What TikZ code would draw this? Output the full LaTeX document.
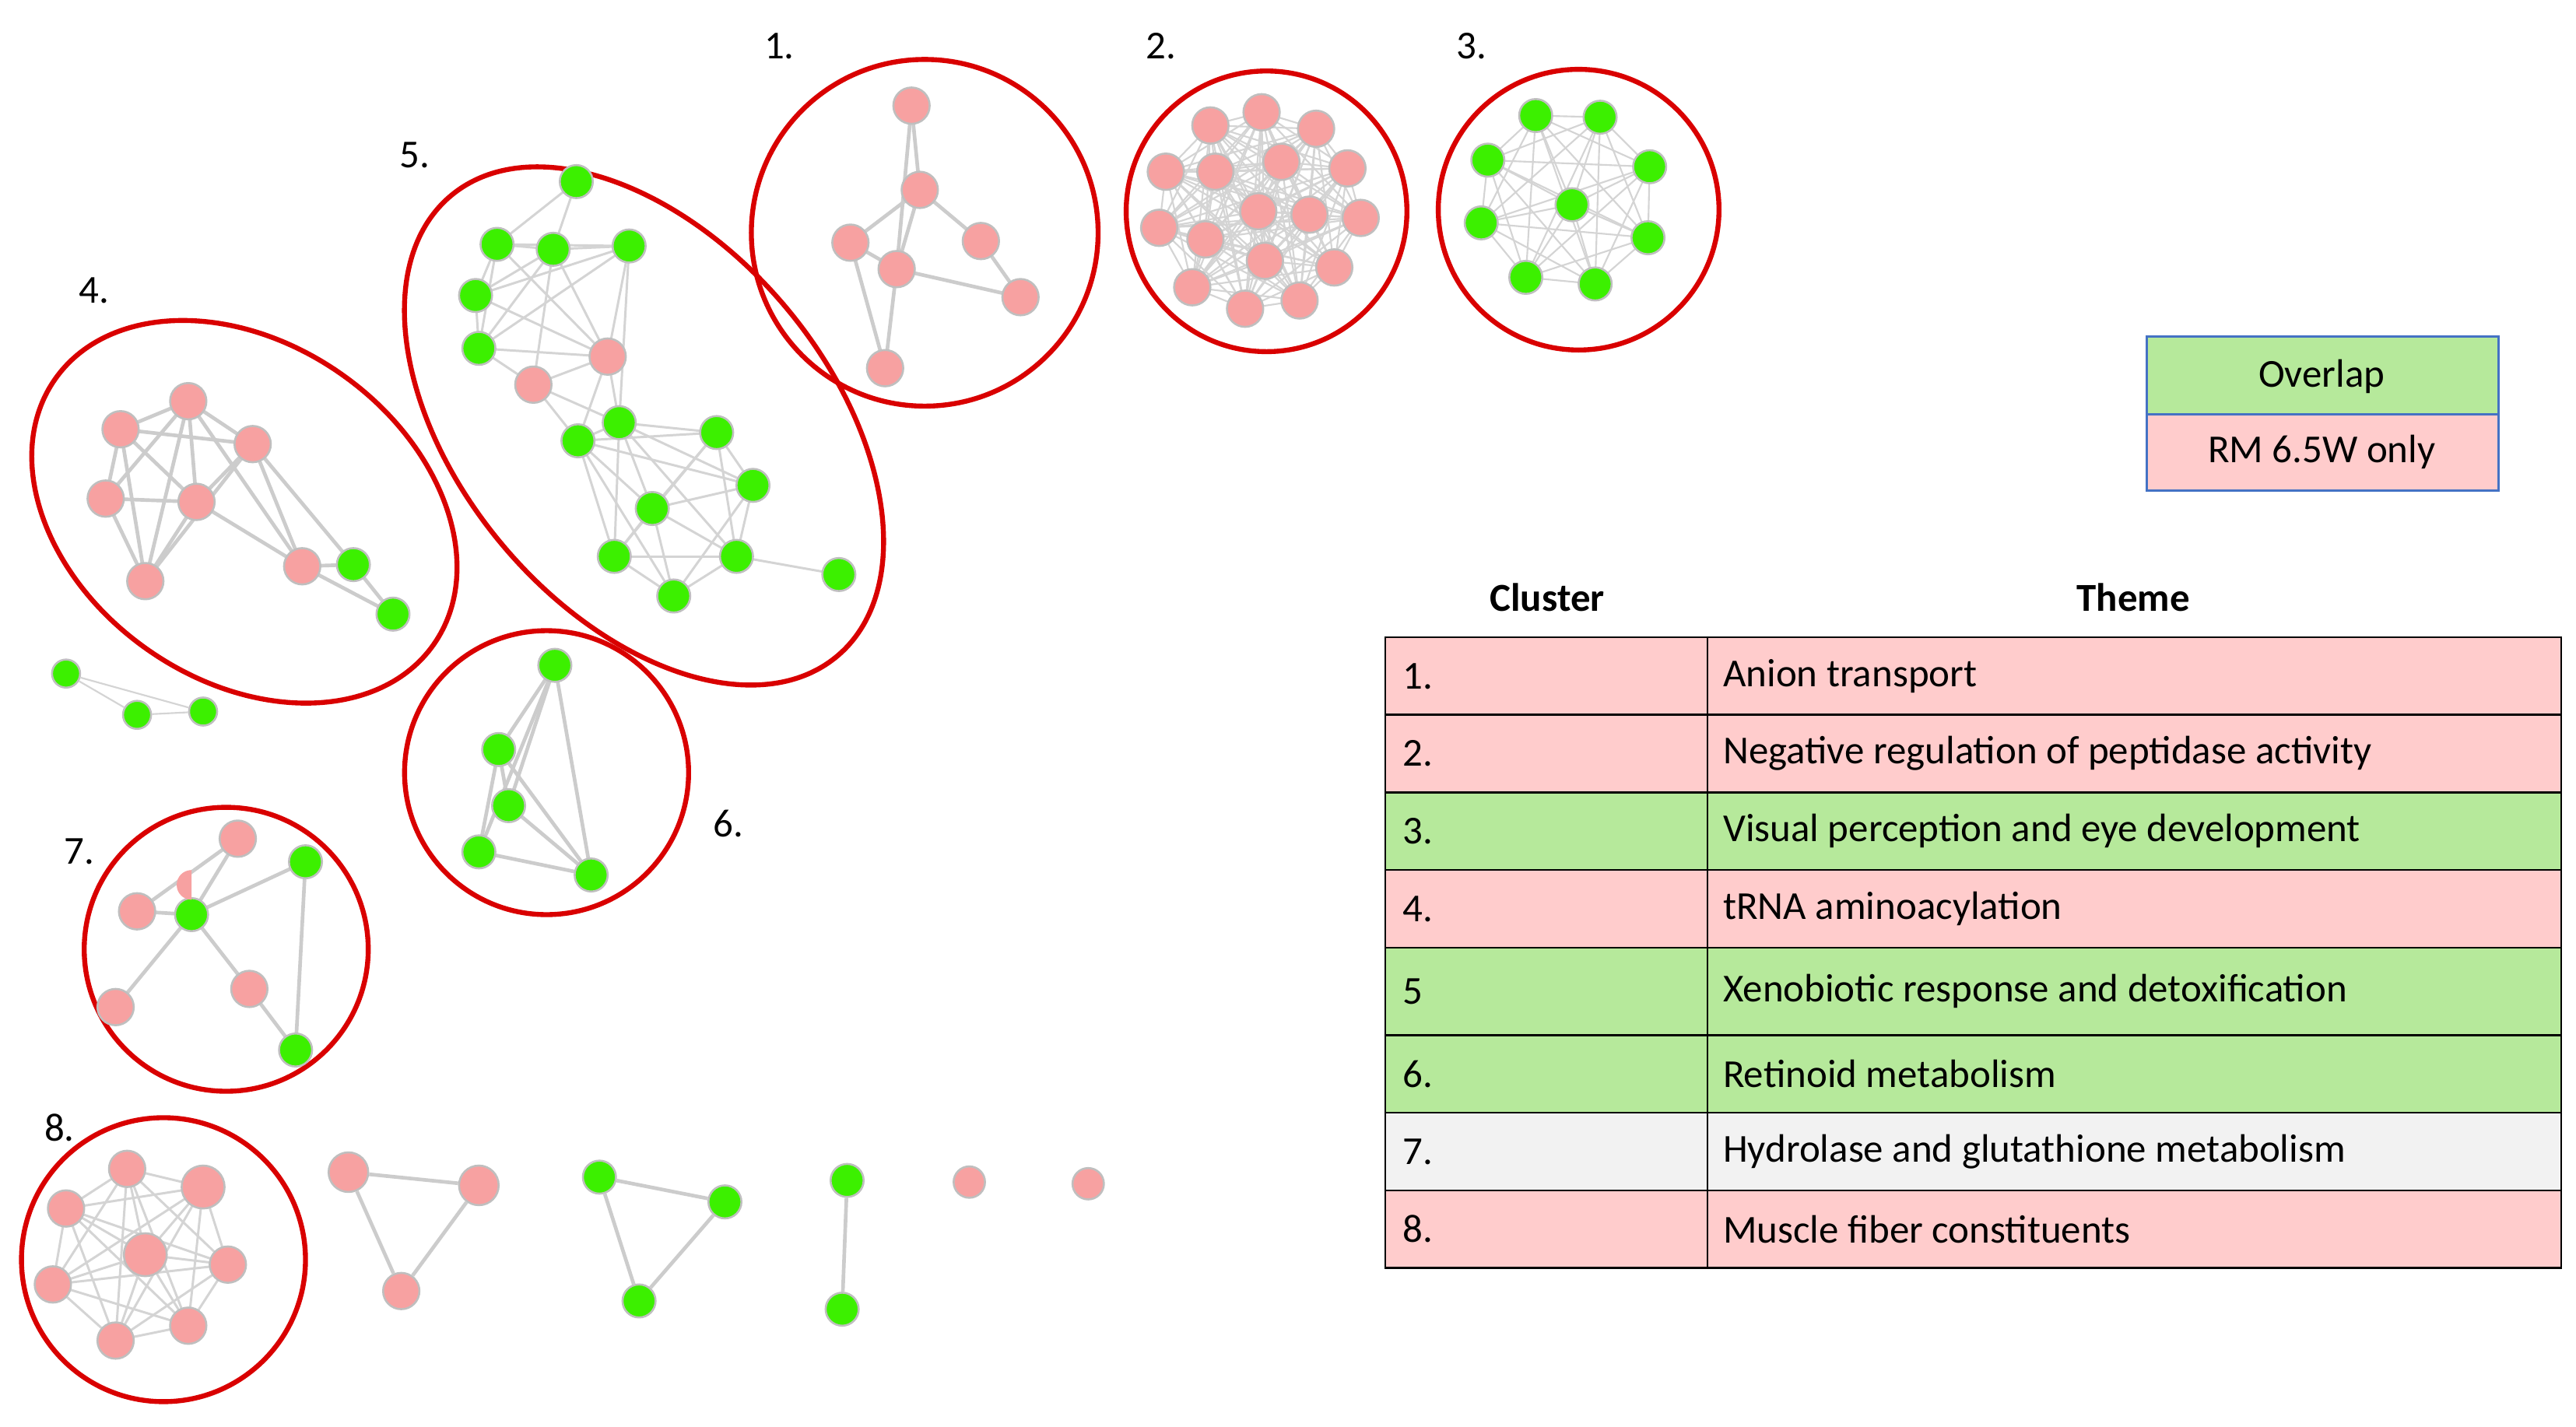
\documentclass[tikz,border=0pt]{standalone}
\usepackage{fontspec}
\setmainfont{Carlito}
\begin{document}
\definecolor{pk}{HTML}{F7A1A1}
\definecolor{gr}{HTML}{3CF000}
\definecolor{rowpk}{HTML}{FFCCCC}
\definecolor{rowgr}{HTML}{B6E99B}
\definecolor{rowgy}{HTML}{F2F2F2}
\definecolor{lbl}{HTML}{4472C4}
\begin{tikzpicture}[x=1pt,y=-1pt,
  pn/.style={circle,fill=pk,draw=black!25,line width=1.2,minimum size=22,inner sep=0},
  gn/.style={circle,fill=gr,draw=black!25,line width=1.2,minimum size=20,inner sep=0},
  ed/.style={draw=black!20,line width=2.2},
  fe/.style={draw=black!17,line width=1},
  ring/.style={draw=red!85!black,line width=3},
  lab/.style={font=\fontsize{24}{28}\selectfont},
  cell/.style={draw=black,line width=1.2}]
\useasboundingbox (0,0) rectangle (1560,864);
\fill[white] (0,0) rectangle (1560,864);
% rings
\draw[ring] (560,141) circle (105);
\draw[ring] (767,128) circle (85);
\draw[ring] (956,127) circle (85);
\draw[ring,shift={(148,310)},rotate=-35] (0,0) ellipse [x radius=140,y radius=102];
\draw[ring,shift={(390,258)},rotate=40] (0,0) ellipse [x radius=112,y radius=182];
\draw[ring] (331,468) circle (86);
\draw[ring] (137,575) circle (86);
\draw[ring] (99,763) circle (86);
% cluster labels
\node[lab] (l1) at (472,28) {1.};
\node[lab] (l2) at (703,28) {2.};
\node[lab] (l3) at (891,28) {3.};
\node[lab] (l4) at (57,176) {4.};
\node[lab] (l5) at (251,94) {5.};
\node[lab] (l6) at (441,499) {6.};
\node[lab] (l7) at (48,516) {7.};
\node[lab] (l8) at (36,683) {8.};
% cluster 1
\foreach \n/\x/\y in {a/552/64,b/557/115,c/515/147,d/543/163,e/594/146,f/618/180,g/536/223}
  \coordinate (A\n) at (\x,\y);
\foreach \u/\v in {a/d,a/b,c/d,c/g,d/b,b/e,e/f,d/f,c/b,d/g}
  \draw[ed] (A\u) -- (A\v);
\foreach \n in {a,b,c,d,e,f,g} \node[pn] (A\n n) at (A\n) {};
% cluster 2
\foreach \i/\x/\y in {1/733/76,2/764/68,3/797/78,4/706/104,5/736/104,6/776/98,7/816/102,8/702/138,9/730/145,10/762/128,11/793/130,12/824/132,13/766/158,14/722/174,15/754/187,16/787/182,17/808/162}
  \coordinate (B\i) at (\x,\y);
\foreach \i in {1,...,17}{\foreach \j in {1,...,17}{\ifnum\i<\j \draw[fe] (B\i) -- (B\j);\fi}}
\foreach \i in {1,...,17} \node[pn] (B\i n) at (B\i) {};
% cluster 3
\foreach \i/\x/\y in {1/930/70,2/969/71,3/901/97,4/999/101,5/952/124,6/897/135,7/998/144,8/924/168,9/966/172}
  \coordinate (C\i) at (\x,\y);
\foreach \i in {1,...,9}{\foreach \j in {1,...,9}{\ifnum\i<\j \draw[fe] (C\i) -- (C\j);\fi}}
\foreach \i in {1,...,9} \node[gn] (C\i n) at (C\i) {};
% cluster 4
\foreach \i/\x/\y in {1/114/243,2/73/260,3/153/269,4/64/302,5/119/304,6/88/352,7/183/343,8/214/342,9/238/372}
  \coordinate (D\i) at (\x,\y);
\foreach \u/\v in {1/2,1/3,1/4,1/5,1/6,2/3,2/4,2/5,2/6,3/5,3/7,4/5,4/6,5/6,5/7,1/7,6/3,7/8,7/9,8/9,3/8}
  \draw[ed] (D\u) -- (D\v);
\foreach \i in {1,...,7} \node[pn] (D\i n) at (D\i) {};
\foreach \i in {8,9} \node[gn] (D\i n) at (D\i) {};
% cluster 5
\foreach \i/\x/\y in {1/349/110,2/301/148,3/335/151,4/381/149,5/288/179,6/290/211,7/368/216,8/323/233,9/350/267,10/375/256,11/434/262,12/456/294,13/395/308,14/372/337,15/446/337,16/408/361,17/508/348}
  \coordinate (E\i) at (\x,\y);
\foreach \u/\v in {1/2,1/3,2/3,2/4,3/4,2/5,2/6,3/5,3/6,3/7,3/8,4/7,4/5,5/6,5/7,6/8,6/7,2/7,4/6,7/8,7/9,7/10,8/9,8/10,9/10,9/11,9/12,9/13,9/14,10/11,10/13,10/12,10/15,11/12,11/13,11/14,11/15,12/13,12/15,12/16,13/14,13/15,13/16,14/16,14/15,15/16,15/17,4/10,9/16,10/14}
  \draw[fe,line width=1.4] (E\u) -- (E\v);
\foreach \i in {1,...,6,9,10,11,12,13,14,15,16,17} \node[gn] (E\i n) at (E\i) {};
\foreach \i in {7,8} \node[pn] (E\i n) at (E\i) {};
% cluster 6
\foreach \i/\x/\y in {1/336/403,2/302/454,3/308/488,4/290/516,5/358/530}
  \coordinate (F\i) at (\x,\y);
\foreach \u/\v in {1/2,1/3,1/4,1/5,2/3,2/4,3/5,4/5,2/5}
  \draw[ed] (F\u) -- (F\v);
\foreach \i in {1,...,5} \node[gn] (F\i n) at (F\i) {};
% cluster 7
\foreach \i/\x/\y in {1/144/508,2/83/552,3/151/599,4/70/610,5/185/522,6/179/636,7/116/554}
  \coordinate (G\i) at (\x,\y);
\foreach \u/\v in {1/2,1/7,7/4,7/3,3/6,5/6,5/7,2/7}
  \draw[ed] (G\u) -- (G\v);
\foreach \i in {1,...,4} \node[pn] (G\i n) at (G\i) {};
\foreach \i in {5,6} \node[gn] (G\i n) at (G\i) {};
\node[pn,fill=gr,minimum size=20] (G7n) at (G7) {};
\fill[pk] (G7) ++(0,-9) arc (90:270:9) -- cycle;
% cluster 8
\foreach \i/\x/\y in {1/77/708,2/123/719,3/40/732,4/88/760,5/138/766,6/32/778,7/114/803,8/70/812}
  \coordinate (H\i) at (\x,\y);
\foreach \i in {1,...,8}{\foreach \j in {1,...,8}{\ifnum\i<\j \draw[fe,line width=1.4] (H\i) -- (H\j);\fi}}
\foreach \i in {1,...,8} \node[pn] (H\i n) at (H\i) {};
\node[pn,minimum size=26] at (H2) {};
\node[pn,minimum size=26] at (H4) {};
% small components
\node[gn,minimum size=17] (s1) at (40,408) {};
\node[gn,minimum size=17] (s2) at (83,433) {};
\node[gn,minimum size=17] (s3) at (123,431) {};
\draw[fe] (s1) -- (s2); \draw[fe] (s1) -- (s3); \draw[fe] (s2) -- (s3);
\node[pn,minimum size=24] (t1) at (211,710) {};
\node[pn,minimum size=24] (t2) at (290,718) {};
\node[pn] (t3) at (243,782) {};
\draw[ed] (t1) -- (t2); \draw[ed] (t1) -- (t3); \draw[ed] (t2) -- (t3);
\node[gn] (u1) at (363,713) {};
\node[gn] (u2) at (439,728) {};
\node[gn] (u3) at (387,788) {};
\draw[ed] (u1) -- (u2); \draw[ed] (u1) -- (u3); \draw[ed] (u2) -- (u3);
\node[gn] (v1) at (513,715) {};
\node[gn] (v2) at (510,793) {};
\draw[ed] (v1) -- (v2);
\node[pn,minimum size=19] (w1) at (587,716) {};
\node[pn,minimum size=19] (w2) at (659,717) {};
% legend
\fill[rowgr] (1300,204) rectangle (1513,251);
\fill[rowpk] (1300,251) rectangle (1513,297);
\draw[lbl,line width=1.5] (1300,204) rectangle (1513,297);
\draw[lbl,line width=1.5] (1300,251) -- (1513,251);
\node[lab] (lg1) at (1406,228) {Overlap};
\node[lab] (lg2) at (1406,274) {RM 6.5W only};
% table
\node[lab,font=\fontsize{24}{28}\selectfont\bfseries] (h1) at (937,362) {Cluster};
\node[lab,font=\fontsize{24}{28}\selectfont\bfseries] (h2) at (1292,362) {Theme};
\foreach \t/\b/\c/\k/\th in {386/433/rowpk/1./Anion transport,
  433/480/rowpk/2./Negative regulation of peptidase activity,
  480/527/rowgr/3./Visual perception and eye development,
  527/574/rowpk/4./tRNA aminoacylation,
  574/627/rowgr/5/Xenobiotic response and detoxification,
  627/674/rowgr/6./Retinoid metabolism,
  674/721/rowgy/7./Hydrolase and glutathione metabolism,
  721/768/rowpk/8./Muscle fiber constituents}{
  \fill[\c] (839,\t) rectangle (1551,\b);
  \draw[cell] (839,\t) rectangle (1551,\b);
  \draw[cell] (1034,\t) -- (1034,\b);
  \node[lab,anchor=west] at (846,{(\t+\b)/2}) {\k};
  \node[lab,anchor=west] at (1040,{(\t+\b)/2}) {\th};
}
\end{tikzpicture}
\end{document}
